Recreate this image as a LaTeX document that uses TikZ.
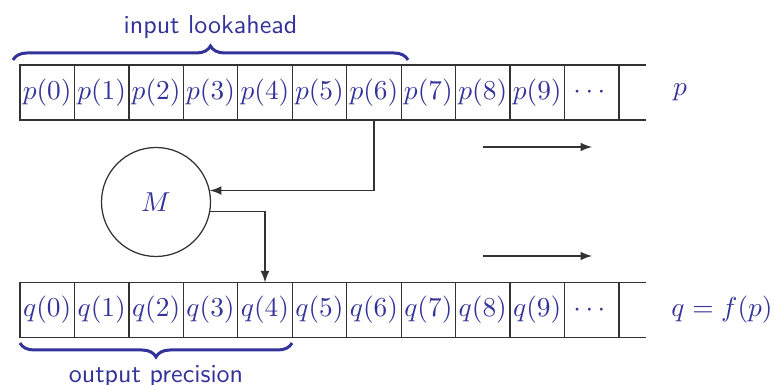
\documentclass[tikz,border=0pt]{standalone}
\usepackage{amsmath,amssymb}
\usepackage{tikz}
\usetikzlibrary{positioning,decorations.pathreplacing}

\definecolor{tapeblue}{RGB}{51,51,153}

\begin{document}
\begin{tikzpicture}[x=0.4pt, y=0.4pt,
    cell/.style={draw=black!80, line width=0.5pt, rectangle, inner sep=0pt,
      outer sep=0pt, minimum width=21.78pt, minimum height=22pt,
      text=tapeblue, font=\fontsize{11}{13}\selectfont},
    tapelabel/.style={text=tapeblue, font=\fontsize{11}{13}\selectfont},
    link/.style={draw=black!80, line width=0.6pt, -latex},
    bracelabel/.style={text=tapeblue, font=\sffamily\fontsize{10.4}{12}\selectfont},
    curly/.style={draw=tapeblue, line width=1.2pt, decorate,
      decoration={brace, amplitude=5.6pt}}]
      \useasboundingbox (0,0) rectangle (773,385);

      % Define coordinates
      \coordinate (p_start) at (47.2, 292.5);
      \coordinate (q_start) at (47.2, 75);
      \coordinate (p_arrow_left) at (483, 238);
      \coordinate (p_arrow_right) at (592, 238);
      \coordinate (q_arrow_left) at (483, 129);
      \coordinate (q_arrow_right) at (592, 129);

      % Draw the input tape p
      \node[cell] (p0) at (p_start) {$p(0)$};
      \foreach \i [remember=\i as \j (initially 0)] in {1,...,9}
        \node[cell, right=0pt of p\j] (p\i) {$p(\i)$};
      \node[cell, right=0pt of p9] (pdots) {$\cdots$};
      \draw[black!80, line width=0.5pt] (pdots.north east) -- ++(27,0);
      \draw[black!80, line width=0.5pt] (pdots.south east) -- ++(27,0);
      \node[tapelabel] (plabel) at (680, 292.5) {$p$};

      % Draw the output tape q
      \node[cell] (q0) at (q_start) {$q(0)$};
      \foreach \i [remember=\i as \j (initially 0)] in {1,...,9}
        \node[cell, right=0pt of q\j] (q\i) {$q(\i)$};
      \node[cell, right=0pt of q9] (qdots) {$\cdots$};
      \draw[black!80, line width=0.5pt] (qdots.north east) -- ++(27,0);
      \draw[black!80, line width=0.5pt] (qdots.south east) -- ++(27,0);
      \node[tapelabel] (qlabel) at (722, 75) {$q = f(p)$};

      % Draw the machine M and its links
      \node[draw=black!80, line width=0.5pt, circle, minimum size=43.6pt,
        tapelabel] (M) at (156, 183) {$M$};
      \draw[link] (p6.south) |- (M.12);
      \draw[link] (M.-10) -| (q4.north);

      % Draw the direction arrows
      \draw[link] (p_arrow_left) -- (p_arrow_right);
      \draw[link] (q_arrow_left) -- (q_arrow_right);

      % Draw the braces
      \draw[curly] (13, 325) -- (408, 325)
        node[midway, anchor=base, yshift=10.4pt, bracelabel] (lookahead) {input lookahead};
      \draw[curly] (292, 42) -- (20, 42)
        node[midway, anchor=base, yshift=-16pt, bracelabel] (precision) {output precision};
    \end{tikzpicture}
\end{document}
